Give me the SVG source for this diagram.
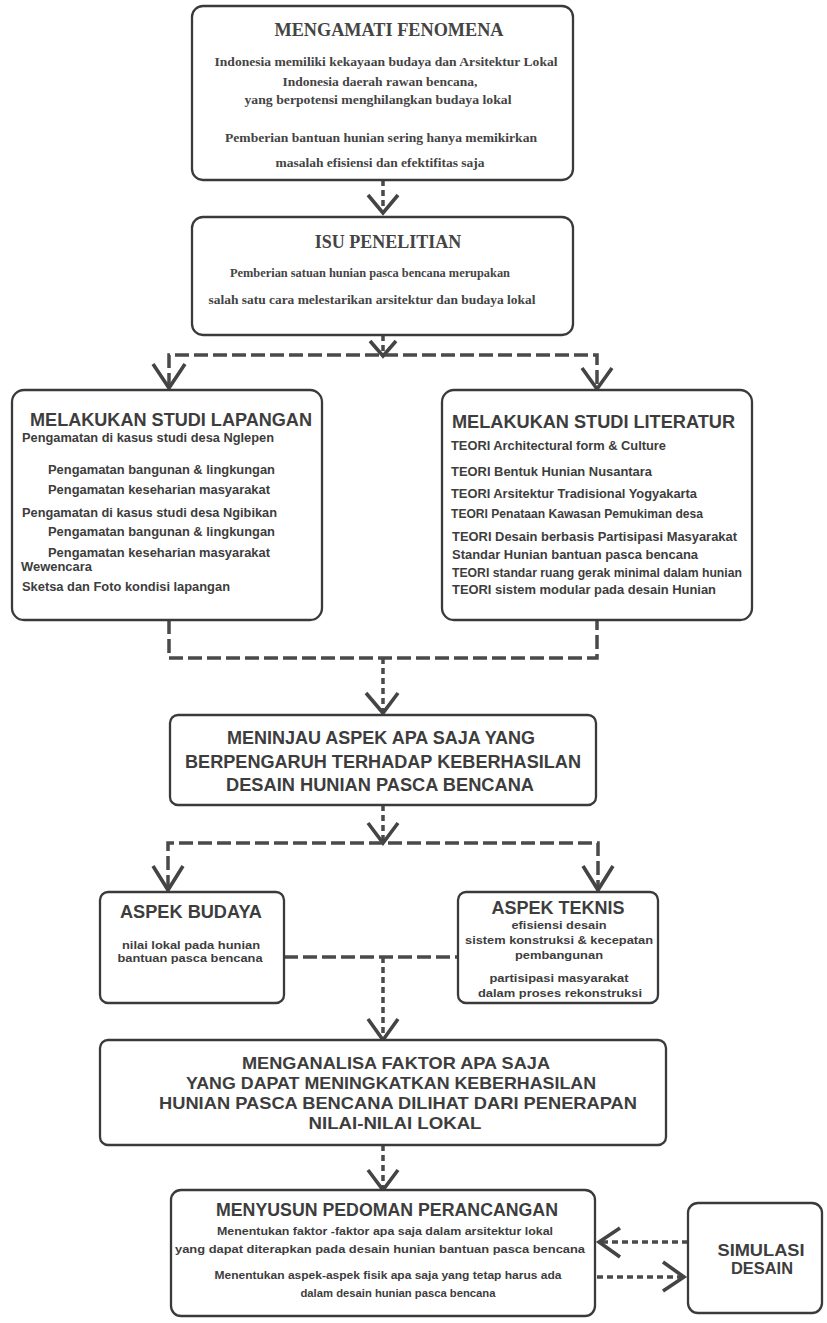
<svg xmlns="http://www.w3.org/2000/svg" width="827" height="1323" viewBox="0 0 827 1323">
<style>
.box{fill:#fff;stroke:#3a3a3a;stroke-width:2.3}
.ser{font-family:"Liberation Serif","Times New Roman",serif;font-weight:bold;fill:#444;text-anchor:middle}
.san{font-family:"Liberation Sans",Arial,sans-serif;font-weight:bold;fill:#3d3d3d}
.mid{text-anchor:middle}
.dash{fill:none;stroke:#4a4a4a;stroke-width:3.5;stroke-dasharray:14 5}
.dot{fill:none;stroke:#4a4a4a;stroke-width:3.5;stroke-dasharray:6 4}
.head{fill:none;stroke:#444;stroke-width:3.6;stroke-linejoin:miter}
</style>
<rect width="827" height="1323" fill="#fff"/>

<g id="connectors">
  <line class="dot" x1="383" y1="180" x2="383" y2="212"/>
  <polyline class="head" points="368,195 383,213 398,195"/>
  <line class="dot" x1="383" y1="335" x2="383" y2="355"/>
  <polyline class="head" points="370,341 383,356 396,341"/>
  <polyline class="dash" points="169,387 169,355 597,355 597,387"/>
  <polyline class="head" points="153,364 169,388 185,364"/>
  <polyline class="head" points="582,368 597,389 612,368"/>
  <polyline class="dash" points="169,620 169,658 597,658 597,620"/>
  <line class="dot" x1="383" y1="658" x2="383" y2="712"/>
  <polyline class="head" points="366,693 383,713 398,693"/>
  <line class="dot" x1="383" y1="805" x2="383" y2="842"/>
  <polyline class="head" points="368,823 383,843 398,823"/>
  <polyline class="dash" points="168,889 168,843 598,843 598,889"/>
  <polyline class="head" points="153,866 168,890 183,866"/>
  <polyline class="head" points="583,866 598,890 613,866"/>
  <line class="dash" x1="284" y1="957" x2="458" y2="957"/>
  <line class="dot" x1="383" y1="957" x2="383" y2="1039"/>
  <polyline class="head" points="368,1019 383,1040 398,1019"/>
  <line class="dot" x1="383" y1="1145" x2="383" y2="1189"/>
  <polyline class="head" points="368,1170 383,1190 398,1170"/>
  <line class="dot" x1="688" y1="1242" x2="600" y2="1242"/>
  <polyline class="head" points="620,1228 599,1242 620,1257"/>
  <line class="dot" x1="597" y1="1277" x2="682" y2="1277"/>
  <polyline class="head" points="663,1262 684,1277 663,1291"/>
</g>

<g id="mengamati">
  <rect class="box" x="192" y="6" width="381" height="174" rx="11"/>
  <text class="ser" x="389" y="36" font-size="18" textLength="229" lengthAdjust="spacingAndGlyphs">MENGAMATI FENOMENA</text>
  <text class="ser" x="386" y="66" font-size="13.5" textLength="343" lengthAdjust="spacingAndGlyphs">Indonesia memiliki kekayaan budaya dan Arsitektur Lokal</text>
  <text class="ser" x="380" y="86" font-size="13.5" textLength="195" lengthAdjust="spacingAndGlyphs">Indonesia daerah rawan bencana,</text>
  <text class="ser" x="378" y="104" font-size="13.5" textLength="267" lengthAdjust="spacingAndGlyphs">yang berpotensi menghilangkan budaya lokal</text>
  <text class="ser" x="381" y="142" font-size="13.5" textLength="312" lengthAdjust="spacingAndGlyphs">Pemberian bantuan hunian sering hanya memikirkan</text>
  <text class="ser" x="380" y="167" font-size="13.5" textLength="209" lengthAdjust="spacingAndGlyphs">masalah efisiensi dan efektifitas saja</text>
</g>

<g id="isu">
  <rect class="box" x="192" y="217" width="381" height="118" rx="11"/>
  <text class="ser" x="388" y="248" font-size="18">ISU PENELITIAN</text>
  <text class="ser" x="370" y="277" font-size="13.5" textLength="280" lengthAdjust="spacingAndGlyphs">Pemberian satuan hunian pasca bencana merupakan</text>
  <text class="ser" x="372" y="304" font-size="13.5" textLength="327" lengthAdjust="spacingAndGlyphs">salah satu cara melestarikan arsitektur dan budaya lokal</text>
</g>

<g id="studi-lapangan">
  <rect class="box" x="12" y="390" width="310" height="230" rx="12"/>
  <text class="san mid" x="171" y="426" font-size="18" textLength="282" lengthAdjust="spacingAndGlyphs">MELAKUKAN STUDI LAPANGAN</text>
  <text class="san" x="22" y="442" font-size="12.5" textLength="252" lengthAdjust="spacingAndGlyphs">Pengamatan di kasus studi desa Nglepen</text>
  <text class="san" x="48" y="474" font-size="12.5" textLength="227" lengthAdjust="spacingAndGlyphs">Pengamatan bangunan &amp; lingkungan</text>
  <text class="san" x="48" y="494" font-size="12.5" textLength="222" lengthAdjust="spacingAndGlyphs">Pengamatan keseharian masyarakat</text>
  <text class="san" x="22" y="517" font-size="12.5" textLength="255" lengthAdjust="spacingAndGlyphs">Pengamatan di kasus studi desa Ngibikan</text>
  <text class="san" x="48" y="536" font-size="12.5" textLength="227" lengthAdjust="spacingAndGlyphs">Pengamatan bangunan &amp; lingkungan</text>
  <text class="san" x="48" y="557" font-size="12.5" textLength="222" lengthAdjust="spacingAndGlyphs">Pengamatan keseharian masyarakat</text>
  <text class="san" x="21" y="571" font-size="12.5" textLength="71" lengthAdjust="spacingAndGlyphs">Wewencara</text>
  <text class="san" x="22" y="591" font-size="12.5" textLength="208" lengthAdjust="spacingAndGlyphs">Sketsa dan Foto kondisi lapangan</text>
</g>

<g id="studi-literatur">
  <rect class="box" x="442" y="390" width="310" height="230" rx="12"/>
  <text class="san" x="452" y="428" font-size="18" textLength="283" lengthAdjust="spacingAndGlyphs">MELAKUKAN STUDI LITERATUR</text>
  <text class="san" x="451" y="450" font-size="12.5" textLength="215" lengthAdjust="spacingAndGlyphs">TEORI Architectural form &amp; Culture</text>
  <text class="san" x="451" y="476" font-size="12.5" textLength="201" lengthAdjust="spacingAndGlyphs">TEORI Bentuk Hunian Nusantara</text>
  <text class="san" x="451" y="498" font-size="12.5" textLength="246" lengthAdjust="spacingAndGlyphs">TEORI Arsitektur Tradisional Yogyakarta</text>
  <text class="san" x="451" y="518" font-size="12.5" textLength="252" lengthAdjust="spacingAndGlyphs">TEORI Penataan Kawasan Pemukiman desa</text>
  <text class="san" x="452" y="541" font-size="12.5" textLength="285" lengthAdjust="spacingAndGlyphs">TEORI Desain berbasis Partisipasi Masyarakat</text>
  <text class="san" x="452" y="559" font-size="12.5" textLength="246" lengthAdjust="spacingAndGlyphs">Standar Hunian bantuan pasca bencana</text>
  <text class="san" x="452" y="577" font-size="12.5" textLength="290" lengthAdjust="spacingAndGlyphs">TEORI standar ruang gerak minimal dalam hunian</text>
  <text class="san" x="452" y="594" font-size="12.5" textLength="264" lengthAdjust="spacingAndGlyphs">TEORI sistem modular pada desain Hunian</text>
</g>

<g id="meninjau">
  <rect class="box" x="170" y="715" width="426" height="90" rx="8"/>
  <text class="san mid" x="381" y="744" font-size="17.5" textLength="308" lengthAdjust="spacingAndGlyphs">MENINJAU ASPEK APA SAJA YANG</text>
  <text class="san mid" x="383" y="768" font-size="17.5" textLength="396" lengthAdjust="spacingAndGlyphs">BERPENGARUH TERHADAP KEBERHASILAN</text>
  <text class="san mid" x="380" y="791" font-size="17.5" textLength="308" lengthAdjust="spacingAndGlyphs">DESAIN HUNIAN PASCA BENCANA</text>
</g>

<g id="aspek-budaya">
  <rect class="box" x="100" y="892" width="184" height="111" rx="8"/>
  <text class="san mid" x="191" y="918" font-size="17.5" textLength="142" lengthAdjust="spacingAndGlyphs">ASPEK BUDAYA</text>
  <text class="san mid" x="191" y="949" font-size="11.5" textLength="138" lengthAdjust="spacingAndGlyphs">nilai lokal pada hunian</text>
  <text class="san mid" x="190" y="962" font-size="11.5" textLength="145" lengthAdjust="spacingAndGlyphs">bantuan pasca bencana</text>
</g>

<g id="aspek-teknis">
  <rect class="box" x="458" y="892" width="200" height="111" rx="8"/>
  <text class="san mid" x="558" y="914" font-size="17.5" textLength="133" lengthAdjust="spacingAndGlyphs">ASPEK TEKNIS</text>
  <text class="san mid" x="559" y="929" font-size="11.5" textLength="95" lengthAdjust="spacingAndGlyphs">efisiensi desain</text>
  <text class="san mid" x="559" y="944" font-size="11.5" textLength="188" lengthAdjust="spacingAndGlyphs">sistem konstruksi &amp; kecepatan</text>
  <text class="san mid" x="559" y="959" font-size="11.5" textLength="88" lengthAdjust="spacingAndGlyphs">pembangunan</text>
  <text class="san mid" x="559" y="982" font-size="11.5" textLength="139" lengthAdjust="spacingAndGlyphs">partisipasi masyarakat</text>
  <text class="san mid" x="560" y="997" font-size="11.5" textLength="164" lengthAdjust="spacingAndGlyphs">dalam proses rekonstruksi</text>
</g>

<g id="menganalisa">
  <rect class="box" x="100" y="1040" width="566" height="105" rx="8"/>
  <text class="san mid" x="396" y="1069" font-size="17" textLength="308" lengthAdjust="spacingAndGlyphs">MENGANALISA FAKTOR APA SAJA</text>
  <text class="san mid" x="391" y="1089" font-size="17" textLength="410" lengthAdjust="spacingAndGlyphs">YANG DAPAT MENINGKATKAN KEBERHASILAN</text>
  <text class="san mid" x="398" y="1109" font-size="17" textLength="478" lengthAdjust="spacingAndGlyphs">HUNIAN PASCA BENCANA DILIHAT DARI PENERAPAN</text>
  <text class="san mid" x="395" y="1129" font-size="17" textLength="173" lengthAdjust="spacingAndGlyphs">NILAI-NILAI LOKAL</text>
</g>

<g id="menyusun">
  <rect class="box" x="171" y="1190" width="424" height="126" rx="10"/>
  <text class="san mid" x="387" y="1216" font-size="17.5" textLength="342" lengthAdjust="spacingAndGlyphs">MENYUSUN PEDOMAN PERANCANGAN</text>
  <text class="san mid" x="385" y="1235" font-size="11.5" textLength="336" lengthAdjust="spacingAndGlyphs">Menentukan faktor -faktor apa saja dalam arsitektur lokal</text>
  <text class="san mid" x="380" y="1253" font-size="11.5" textLength="410" lengthAdjust="spacingAndGlyphs">yang dapat diterapkan pada desain hunian bantuan pasca bencana</text>
  <text class="san mid" x="388" y="1279" font-size="11.5" textLength="347" lengthAdjust="spacingAndGlyphs">Menentukan aspek-aspek fisik apa saja yang tetap harus ada</text>
  <text class="san mid" x="398" y="1297" font-size="11.5" textLength="195" lengthAdjust="spacingAndGlyphs">dalam desain hunian pasca bencana</text>
</g>

<g id="simulasi">
  <rect class="box" x="688" y="1203" width="134" height="110" rx="10"/>
  <text class="san mid" x="761" y="1256" font-size="17" textLength="87" lengthAdjust="spacingAndGlyphs">SIMULASI</text>
  <text class="san mid" x="762" y="1274" font-size="17" textLength="62" lengthAdjust="spacingAndGlyphs">DESAIN</text>
</g>
</svg>
